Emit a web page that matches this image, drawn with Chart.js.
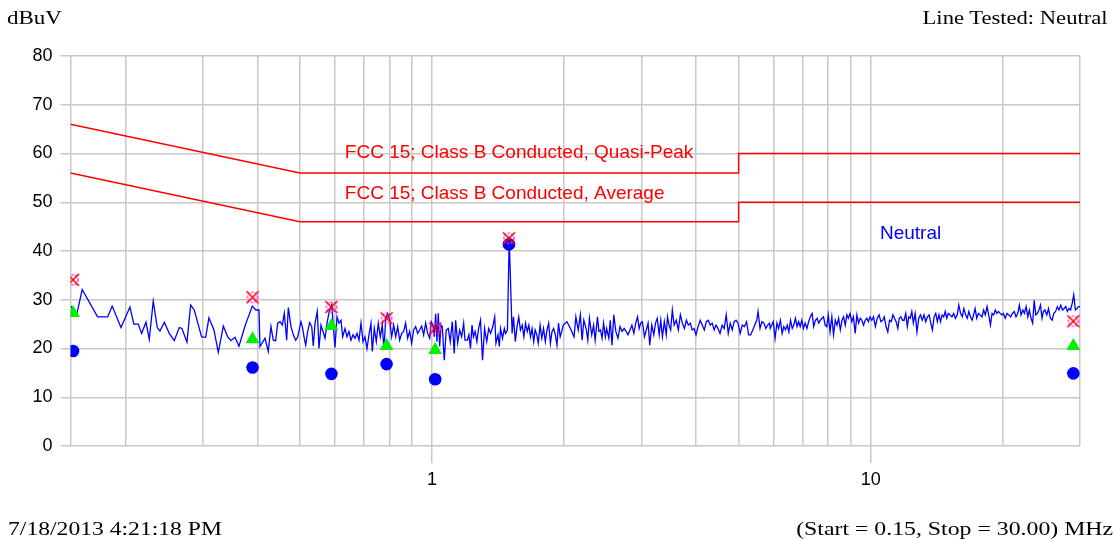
<!DOCTYPE html>
<html>
<head>
<meta charset="utf-8">
<script src="https://cdn.jsdelivr.net/npm/chart.js@4.4.0/dist/chart.umd.min.js"></script>
<style>
  html, body { margin: 0; padding: 0; background: #fff; }
  #wrap { position: relative; width: 1115px; height: 539px; overflow: hidden; }
  #chart { position: absolute; left: 0; top: 0; }
  .note {
    position: absolute;
    font-family: "Liberation Serif", "Times New Roman", serif;
    font-size: 19px;
    line-height: 19px;
    color: #000;
    white-space: nowrap;
  }
  .left { transform-origin: left center; }
  .right { transform-origin: right center; }
</style>
</head>
<body>
<div id="wrap">
  <canvas id="chart" width="1115" height="539"></canvas>
  <div class="note left" style="left:7px; top:8px;" data-fit="55">dBuV</div>
  <div class="note right" style="right:7px; top:8px;" data-fit="185">Line Tested: Neutral</div>
  <div class="note left" style="left:8px; top:519px;" data-fit="214">7/18/2013 4:21:18 PM</div>
  <div class="note right" style="right:2px; top:519px;" data-fit="317">(Start = 0.15, Stop = 30.00) MHz</div>
</div>
<script>
// ---- data (MHz / dBuV) ----
const gridFreqs = [0.2, 0.3, 0.4, 0.5, 0.6, 0.7, 0.8, 0.9, 1, 2, 3, 4, 5, 6, 7, 8, 9, 10, 20, 30];
const labelledFreqs = [1, 10];
const yTicks = [0, 10, 20, 30, 40, 50, 60, 70, 80];

const limitFreq = [0.15, 0.5, 5, 5, 30];
const qpLimit = [66, 56, 56, 60, 60];
const avgLimit = [56, 46, 46, 50, 50];

const markFreq = [0.152, 0.390, 0.590, 0.788, 1.017, 1.498, 28.97];
const peakMarks = [34.1, 30.5, 28.5, 26.2, 24.1, 42.6, 25.6];
const qpMarks = [27.3, 21.9, 24.6, 20.5, 19.7, 41.6, 20.5];
const avgMarks = [19.5, 16.1, 14.8, 16.8, 13.7, 41.4, 14.9];

const traceFreq = [
  0.1503, 0.1549, 0.1595, 0.1729, 0.1823, 0.1867, 0.1955, 0.2049, 0.2092, 0.2140,
  0.2179, 0.2229, 0.2268, 0.2316, 0.2365, 0.2399, 0.2454, 0.2519, 0.2586, 0.2655,
  0.2692, 0.2764, 0.2818, 0.2872, 0.2985, 0.3049, 0.3102, 0.3185, 0.3258, 0.3345,
  0.3423, 0.3483, 0.3556, 0.3632, 0.3748, 0.3894, 0.3970, 0.4034, 0.4055,
  0.4163, 0.4235, 0.4296, 0.4348, 0.4403, 0.4450, 0.4504, 0.4559, 0.4607, 0.4665,
  0.4705, 0.4772, 0.4830, 0.4891, 0.4943, 0.5029, 0.5064, 0.5117, 0.5155, 0.5209,
  0.5264, 0.5320, 0.5364, 0.5413, 0.5478, 0.5527, 0.5585, 0.5644, 0.5704, 0.5773,
  0.5834, 0.5908, 0.6011, 0.6075, 0.6139, 0.6204, 0.6259, 0.6335, 0.6402, 0.6470,
  0.6538, 0.6607, 0.6677, 0.6747, 0.6818, 0.6890, 0.6963, 0.7036, 0.7110, 0.7185,
  0.7261, 0.7311, 0.7388, 0.7466, 0.7545, 0.7624, 0.7705, 0.7774, 0.7844, 0.7926,
  0.8010, 0.8094, 0.8180, 0.8266, 0.8353, 0.8441, 0.8530, 0.8620, 0.8709, 0.8802,
  0.8895, 0.8989, 0.9084, 0.9180, 0.9277, 0.9375, 0.9474, 0.9574, 0.9675, 0.9777,
  0.9880, 0.9963, 1.0053, 1.0121, 1.0196, 1.0266, 1.0336, 1.0412, 1.0484, 1.0556,
  1.0667, 1.0779, 1.0893, 1.1008, 1.1124, 1.1241, 1.1324, 1.1444, 1.1565, 1.1687,
  1.1810, 1.1891,
  1.204, 1.214, 1.224, 1.234, 1.243, 1.254, 1.266, 1.277, 1.290, 1.304,
  1.318, 1.333, 1.347, 1.361, 1.376, 1.390, 1.399, 1.414, 1.424, 1.433,
  1.448, 1.462, 1.471, 1.486, 1.500, 1.523, 1.534, 1.549, 1.563, 1.577,
  1.591, 1.606, 1.620, 1.634, 1.649, 1.663, 1.677, 1.691, 1.706, 1.719,
  1.734, 1.747, 1.764, 1.780, 1.796, 1.813, 1.829, 1.845, 1.862, 1.878,
  1.894, 1.911, 1.927, 1.943, 1.960, 1.976, 1.992, 2.031, 2.069, 2.108,
  2.128, 2.155, 2.179, 2.199, 2.219, 2.246, 2.266, 2.285, 2.313, 2.336,
  2.355, 2.384, 2.402, 2.422, 2.442, 2.461, 2.485, 2.501, 2.530, 2.549,
  2.573, 2.597, 2.625, 2.654, 2.683, 2.712, 2.741, 2.770, 2.798, 2.827,
  2.856, 2.885, 2.914, 2.942, 2.967, 2.991, 3.017, 3.051, 3.080, 3.109,
  3.136, 3.170, 3.204, 3.233, 3.262, 3.296, 3.323, 3.352, 3.386, 3.420,
  3.442, 3.471, 3.500, 3.531, 3.565, 3.604, 3.644, 3.683, 3.722, 3.762,
  3.801, 3.841, 3.880, 3.919, 3.959, 3.998, 4.042, 4.087, 4.131, 4.176,
  4.220, 4.264, 4.309, 4.353, 4.398, 4.442, 4.487, 4.535, 4.585, 4.635,
  4.685, 4.735, 4.785, 4.835, 4.885, 4.935, 4.985, 5.040, 5.098, 5.155,
  5.213, 5.270, 5.328, 5.385, 5.443, 5.500, 5.537, 5.595, 5.652, 5.710,
  5.767, 5.825, 5.882,
  5.902, 5.951, 5.997, 6.055, 6.113, 6.167, 6.225, 6.283, 6.338, 6.396,
  6.454, 6.509, 6.567, 6.625, 6.679, 6.737, 6.795, 6.850, 6.908, 6.966,
  7.024, 7.090, 7.157, 7.220, 7.286, 7.353, 7.416, 7.482, 7.549, 7.612,
  7.678, 7.745, 7.808, 7.875, 7.941, 8.004, 8.080, 8.156, 8.228, 8.304,
  8.379, 8.451, 8.527, 8.603, 8.674, 8.750, 8.826, 8.897, 8.973, 9.055,
  9.134, 9.219, 9.303, 9.383, 9.468, 9.552, 9.632, 9.716, 9.801, 9.881,
  9.965, 10.06, 10.15, 10.25, 10.35, 10.45, 10.55, 10.65, 10.74, 10.84,
  10.94, 11.04, 11.14, 11.24, 11.33, 11.43, 11.53, 11.62, 11.72, 11.82,
  11.92, 12.02, 12.12, 12.21, 12.31, 12.41, 12.51, 12.63, 12.75, 12.87,
  12.99, 13.11, 13.23, 13.35, 13.47, 13.59, 13.71, 13.83, 13.95, 14.07,
  14.19, 14.31, 14.43, 14.55, 14.67, 14.79, 14.91, 15.03, 15.18, 15.32,
  15.46, 15.60, 15.75, 15.88, 16.03, 16.17, 16.31, 16.46, 16.60, 16.74,
  16.88, 17.03, 17.16, 17.30, 17.45, 17.60, 17.76, 17.93, 18.09, 18.25,
  18.42, 18.58, 18.75, 18.91, 19.07, 19.24, 19.40, 19.56, 19.73, 19.89,
  20.06, 20.26, 20.46, 20.65, 20.85, 21.05, 21.24, 21.44, 21.64, 21.82,
  22.02, 22.22, 22.41, 22.61, 22.81, 23.00, 23.20, 23.40, 23.59, 23.79,
  23.99, 24.18, 24.38, 24.58, 24.76, 24.96, 25.20, 25.43, 25.68, 25.92,
  26.15, 26.40, 26.64, 26.87, 27.12, 27.36, 27.59, 27.84, 28.08, 28.31,
  28.56, 28.80, 29.03, 29.28, 29.53, 29.76, 30.00
];

const traceLevel = [
  28.7, 26.9, 32.1, 26.5, 26.5, 28.7, 24.3, 28.5, 25.0, 25.0,
  23.1, 25.4, 21.9, 29.7, 24.3, 23.6, 25.4, 23.1, 21.6, 24.3,
  24.1, 21.3, 28.9, 27.9, 22.4, 22.3, 26.3, 23.8, 19.2, 24.6,
  22.4, 21.6, 22.3, 20.5, 24.6, 28.7, 27.9, 27.9, 20.4,
  22.1, 19.4, 24.5, 21.7, 21.6, 25.2, 25.5, 24.8, 27.2, 21.7,
  28.4, 24.5, 22.8, 21.7, 22.4, 25.5, 24.5, 22.1, 20.7, 23.5,
  25.3, 24.5, 20.5, 25.2, 27.6, 20.0, 24.8, 23.5, 22.1, 25.5,
  27.6, 29.0, 20.2, 26.5, 25.2, 25.8, 22.4, 24.1, 22.4, 23.5,
  21.7, 22.8, 22.1, 23.1, 21.7, 25.2, 21.4, 22.4, 20.0, 22.8,
  25.2, 19.4, 24.1, 21.4, 25.2, 22.4, 24.8, 19.7, 26.2, 27.2,
  25.8, 22.4, 24.8, 22.4, 24.5, 21.7, 23.1, 23.5, 25.2, 22.1,
  23.5, 21.1, 23.8, 24.5, 23.1, 23.8, 24.6, 22.8, 25.2, 23.1,
  22.1, 25.5, 24.8, 22.4, 27.1, 21.4, 27.2, 20.4, 24.8, 24.5,
  17.6, 23.8, 24.1, 21.4, 25.5, 19.0, 25.8, 21.1, 23.8, 22.4,
  25.2, 21.7,
  21.7, 22.8, 20.0, 24.8, 22.4, 23.5, 21.4, 24.1, 25.8, 17.6,
  24.1, 21.4, 24.1, 23.1, 24.5, 26.5, 21.1, 22.8, 20.4, 24.1,
  22.1, 24.1, 23.1, 23.8, 42.5, 23.1, 26.5, 21.4, 24.5, 26.5,
  23.8, 24.8, 22.4, 25.2, 23.5, 24.8, 22.4, 24.1, 21.4, 23.8,
  22.8, 21.1, 24.8, 22.1, 24.1, 21.4, 23.8, 25.2, 21.1, 23.5,
  24.1, 22.8, 20.7, 25.2, 22.4, 23.5, 24.8, 25.5, 24.1, 22.4,
  26.5, 23.8, 26.9, 21.7, 25.8, 24.1, 21.7, 26.2, 22.8, 24.8,
  21.7, 26.5, 23.5, 23.8, 22.1, 25.2, 22.4, 24.1, 22.1, 25.8,
  20.7, 26.9, 23.5, 22.1, 24.5, 23.5, 24.1, 23.5, 22.8, 23.8,
  24.8, 23.1, 25.2, 26.5, 24.1, 25.2, 25.5, 22.4, 23.8, 25.2,
  20.7, 24.8, 22.8, 25.2, 26.2, 22.8, 25.8, 22.4, 25.5, 22.8,
  26.5, 24.8, 23.8, 27.9, 24.8, 25.8, 23.8, 26.9, 25.2, 24.1,
  25.8, 24.8, 25.2, 23.8, 24.1, 22.8, 24.5, 25.8, 24.8, 23.8,
  25.5, 25.8, 24.8, 25.2, 23.8, 24.8, 24.1, 23.1, 24.8, 24.1,
  26.9, 23.1, 25.2, 23.8, 25.5, 25.8, 25.2, 23.1, 24.8, 24.5,
  25.5, 22.8, 22.8, 23.8, 24.8, 25.8, 27.6, 24.1, 25.5, 25.2,
  24.1, 24.8, 25.2,
  24.1, 24.8, 25.5, 22.1, 25.2, 24.1, 25.8, 23.1, 24.5, 23.8,
  24.8, 23.4, 25.8, 24.1, 24.8, 26.2, 24.5, 25.5, 24.5, 25.8,
  24.1, 25.2, 24.1, 25.5, 26.5, 27.2, 24.5, 25.8, 26.2, 25.2,
  25.8, 26.2, 26.5, 24.8, 24.5, 26.9, 23.4, 26.5, 22.8, 25.8,
  24.8, 26.2, 23.8, 25.8, 26.5, 24.8, 26.9, 26.2, 27.2, 25.5,
  26.5, 23.1, 26.9, 25.2, 26.2, 25.8, 24.8, 25.8, 26.2, 25.5,
  26.5, 25.8, 26.5, 24.5, 26.2, 26.9, 25.5, 25.8, 26.5, 24.5,
  23.4, 25.8, 25.5, 26.9, 26.2, 25.5, 24.1, 26.2, 26.5, 25.8,
  25.8, 27.2, 24.5, 26.5, 26.2, 27.6, 25.2, 27.2, 23.4, 26.2,
  26.9, 25.8, 26.9, 25.5, 26.5, 26.9, 25.2, 23.8, 26.5, 27.2,
  25.5, 26.9, 25.5, 26.9, 26.5, 27.6, 26.2, 27.2, 26.9, 26.5,
  27.2, 26.2, 26.9, 28.9, 27.2, 26.5, 28.2, 26.9, 26.2, 27.6,
  26.5, 25.8, 26.9, 28.2, 26.2, 27.2, 26.9, 26.5, 27.9, 26.9,
  28.6, 26.9, 24.8, 27.2, 26.9, 27.9, 27.2, 27.6, 27.2, 26.9,
  27.2, 26.2, 27.2, 26.9, 26.5, 27.2, 27.6, 26.5, 27.2, 28.9,
  26.9, 27.9, 27.2, 28.6, 26.5, 27.9, 26.2, 25.2, 29.9, 26.9,
  27.2, 27.9, 28.9, 26.2, 27.6, 27.9, 26.9, 28.2, 26.2, 25.8,
  27.2, 27.6, 28.6, 27.9, 28.9, 27.9, 28.2, 28.6, 27.6, 28.2,
  27.9, 29.3, 31.0, 27.9, 28.2, 28.6, 28.6
];

// ---- styles ----
const gridGray = "#c8c8c8";
const tickFont = { family: "'Liberation Sans', Arial, sans-serif", size: 18 };
const noteFont = "19px 'Liberation Sans', Arial, sans-serif";

const chartNotes = [
  { text: "FCC 15; Class B Conducted, Quasi-Peak", freq: 0.633, level: 60.2, color: "#ff0000" },
  { text: "FCC 15; Class B Conducted, Average", freq: 0.633, level: 51.8, color: "#ff0000" },
  { text: "Neutral", freq: 10.5, level: 43.6, color: "#0000ff" }
];

function pairUp(xs, ys) {
  return xs.map((x, i) => ({ x, y: ys[i] }));
}

function makePeakIcon() {
  const c = document.createElement("canvas");
  c.width = 16;
  c.height = 16;
  const g = c.getContext("2d");
  g.strokeStyle = "#ff33ff";
  g.lineWidth = 1.6;
  g.setLineDash([2.2, 1.4]);
  g.beginPath();
  g.arc(8, 8, 5, 0, Math.PI * 2);
  g.stroke();
  g.setLineDash([]);
  g.strokeStyle = "#ff0000";
  g.lineWidth = 1.6;
  g.beginPath();
  g.moveTo(2, 2);
  g.lineTo(14, 14);
  g.moveTo(14, 2);
  g.lineTo(2, 14);
  g.stroke();
  return c;
}

const notesPlugin = {
  id: "notes",
  afterDatasetsDraw(chart) {
    const { ctx, scales } = chart;
    ctx.save();
    ctx.font = noteFont;
    ctx.textAlign = "left";
    ctx.textBaseline = "middle";
    chartNotes.forEach((n) => {
      ctx.fillStyle = n.color;
      ctx.fillText(n.text, scales.x.getPixelForValue(n.freq), scales.y.getPixelForValue(n.level));
    });
    ctx.restore();
  }
};

const ctx = document.getElementById("chart");

new Chart(ctx, {
  type: "scatter",
  data: {
    datasets: [
      {
        label: "Peak",
        data: pairUp(markFreq, peakMarks),
        pointStyle: makePeakIcon(),
        pointRadius: 8,
        order: 0
      },
      {
        label: "Average",
        data: pairUp(markFreq, avgMarks),
        pointStyle: "circle",
        pointRadius: 6.3,
        backgroundColor: "#0000ff",
        borderColor: "#0000ff",
        borderWidth: 0,
        order: 1
      },
      {
        label: "Quasi-Peak",
        data: pairUp(markFreq, qpMarks),
        pointStyle: "triangle",
        pointRadius: 8,
        backgroundColor: "#00f000",
        borderColor: "#00f000",
        borderWidth: 0,
        order: 2
      },
      {
        label: "Neutral",
        data: pairUp(traceFreq, traceLevel),
        showLine: true,
        borderColor: "#0000ff",
        borderWidth: 1.3,
        pointRadius: 0,
        tension: 0,
        order: 3
      },
      {
        label: "QP limit",
        data: pairUp(limitFreq, qpLimit),
        showLine: true,
        borderColor: "#ff0000",
        borderWidth: 1.4,
        pointRadius: 0,
        order: 4
      },
      {
        label: "Avg limit",
        data: pairUp(limitFreq, avgLimit),
        showLine: true,
        borderColor: "#ff0000",
        borderWidth: 1.4,
        pointRadius: 0,
        order: 5
      }
    ]
  },
  options: {
    responsive: false,
    animation: false,
    events: [],
    layout: { padding: { left: 0, right: 35, top: 56, bottom: 0 } },
    plugins: {
      legend: { display: false },
      tooltip: { enabled: false }
    },
    scales: {
      x: {
        type: "logarithmic",
        min: 0.15,
        max: 30,
        afterBuildTicks: (scale) => {
          scale.ticks = gridFreqs.map((v) => ({ value: v }));
        },
        afterFit: (scale) => {
          scale.height = 93;
        },
        grid: {
          color: gridGray,
          lineWidth: 1.5,
          tickLength: 17,
          tickColor: (c) =>
            c.tick && labelledFreqs.includes(c.tick.value) ? gridGray : "rgba(0,0,0,0)"
        },
        border: { display: false },
        ticks: {
          autoSkip: false,
          maxRotation: 0,
          padding: 6,
          color: "#000",
          font: tickFont,
          callback: (v) => (labelledFreqs.includes(v) ? String(v) : "")
        }
      },
      y: {
        min: 0,
        max: 80,
        afterBuildTicks: (scale) => {
          scale.ticks = yTicks.map((v) => ({ value: v }));
        },
        afterFit: (scale) => {
          scale.width = 70.5;
        },
        grid: { color: gridGray, lineWidth: 1.5, tickLength: 10 },
        border: { color: gridGray, width: 1.5 },
        ticks: { padding: 8, color: "#000", font: tickFont }
      }
    }
  },
  plugins: [notesPlugin]
});

// stretch the serif captions to the widths seen on the original print
document.querySelectorAll(".note").forEach((el) => {
  const target = Number(el.dataset.fit);
  const w = el.getBoundingClientRect().width;
  if (w > 0) el.style.transform = `scaleX(${target / w})`;
});
</script>
</body>
</html>
